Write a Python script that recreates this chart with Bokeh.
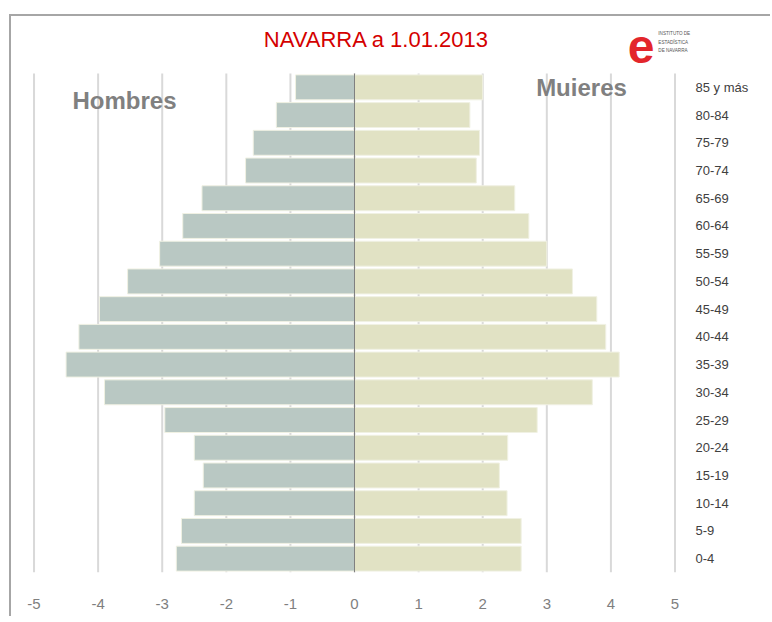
from bokeh.plotting import figure
from bokeh.models import Range1d, FixedTicker, Label
from bokeh.embed import file_html
from bokeh.resources import INLINE

# ---- data (percent of population), bottom to top ----
ages = ["0-4", "5-9", "10-14", "15-19", "20-24", "25-29", "30-34", "35-39",
        "40-44", "45-49", "50-54", "55-59", "60-64", "65-69", "70-74",
        "75-79", "80-84", "85 y más"]
hombres = [-2.78, -2.70, -2.50, -2.36, -2.50, -2.96, -3.90, -4.50, -4.30,
           -3.98, -3.54, -3.04, -2.68, -2.38, -1.70, -1.58, -1.22, -0.92]
mujeres = [2.60, 2.60, 2.38, 2.26, 2.39, 2.85, 3.71, 4.13, 3.92,
           3.78, 3.40, 3.00, 2.72, 2.50, 1.90, 1.95, 1.80, 2.00]
xticks = [-5, -4, -3, -2, -1, 0, 1, 2, 3, 4, 5]
xtick_labels = ["-5", "-4", "-3", "-2", "-1", "0", "1", "2", "3", "4", "5"]
title_text = "NAVARRA a 1.01.2013"
left_label = "Hombres"
right_label = "Muieres"
logo_lines = ["INSTITUTO DE", "ESTADÍSTICA", "DE NAVARRA"]

FONT = "Liberation Sans"
pos = list(range(len(ages)))
y_lo, y_hi = -0.5, len(ages) - 0.5

p = figure(width=761, height=602,
           x_range=Range1d(-5.211, 5.273),
           y_range=Range1d(y_lo, 19.52),
           y_axis_location="right",
           output_backend="svg", toolbar_location=None,
           min_border_left=9, min_border_right=80,
           min_border_top=1, min_border_bottom=46)
p.margin = (14, 0, 0, 9)
p.styles = {"border-top": "2px solid #a6a6a6", "border-left": "2px solid #a6a6a6"}
p.outline_line_color = None
p.background_fill_color = "white"
p.border_fill_color = "white"
p.xgrid.grid_line_color = None
p.ygrid.grid_line_color = None

# vertical grid lines at the x ticks, spanning the bar area only
p.segment(x0=xticks, x1=xticks, y0=[y_lo] * len(xticks), y1=[y_hi] * len(xticks),
          line_color="#d9d9d9", line_width=2)

# bars
p.hbar(y=pos, left=0, right=hombres, height=0.9,
       fill_color="#b9c8c3", line_color="#f0f1e3", line_width=1)
p.hbar(y=pos, left=0, right=mujeres, height=0.9,
       fill_color="#e1e2c4", line_color="#f0f1e3", line_width=1)

# zero line
p.segment(x0=[0], x1=[0], y0=[y_lo], y1=[y_hi], line_color="#808080", line_width=1)

# axes
xa = p.xaxis[0]
xa.ticker = FixedTicker(ticks=xticks)
xa.major_label_overrides = {t: l for t, l in zip(xticks, xtick_labels)}
xa.axis_line_color = None
xa.major_tick_line_color = None
xa.minor_tick_line_color = None
xa.major_tick_out = 0
xa.major_label_standoff = 26
xa.major_label_text_font = FONT
xa.major_label_text_font_size = "15px"
xa.major_label_text_color = "#7f7f7f"

ya = p.yaxis[0]
ya.ticker = FixedTicker(ticks=pos)
ya.major_label_overrides = {i: a for i, a in zip(pos, ages)}
ya.axis_line_color = None
ya.major_tick_line_color = None
ya.minor_tick_line_color = None
ya.major_tick_out = 0
ya.major_label_standoff = 3
ya.major_label_text_font = FONT
ya.major_label_text_font_size = "13px"
ya.major_label_text_color = "#404040"

# header texts
p.add_layout(Label(x=0.343, y=18.727, text=title_text, text_font=FONT,
                   text_font_size="22px", text_color="#d40000",
                   text_align="center", text_baseline="middle"))
p.add_layout(Label(x=-3.588, y=16.526, text=left_label, text_font=FONT,
                   text_font_size="24px", text_font_style="bold",
                   text_color="#808080", text_align="center", text_baseline="middle"))
p.add_layout(Label(x=3.541, y=16.995, text=right_label, text_font=FONT,
                   text_font_size="24px", text_font_style="bold",
                   text_color="#808080", text_align="center", text_baseline="middle"))
# logo
p.add_layout(Label(x=4.47, y=18.49, text="e", text_font=FONT,
                   text_font_size="48px", text_font_style="bold",
                   text_color="#e3262b", text_align="center", text_baseline="middle"))
for i, t in enumerate(logo_lines):
    p.add_layout(Label(x=4.74, y=18.943 - i * 0.307, text=t, text_font=FONT,
                       text_font_size="4.6px", text_color="#555555",
                       text_align="left", text_baseline="middle"))

open("out.html", "w").write(file_html(p, INLINE))
